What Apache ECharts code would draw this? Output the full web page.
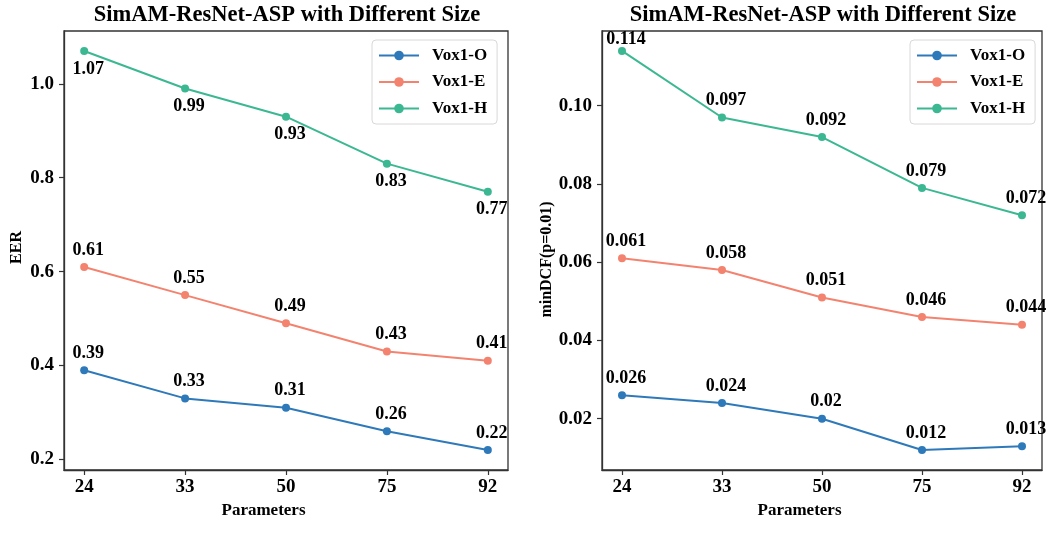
<!DOCTYPE html>
<html>
<head>
<meta charset="utf-8">
<script src="https://cdn.jsdelivr.net/npm/echarts@6/dist/echarts.min.js"></script>
<style>
html,body{margin:0;padding:0;background:#fff;}
#c{width:1053px;height:534px;}
</style>
</head>
<body>
<div id="c"></div>
<script>
const categories = ['24', '33', '50', '75', '92'];
const seriesNames = ['Vox1-O', 'Vox1-E', 'Vox1-H'];
const eerO = [0.39, 0.33, 0.31, 0.26, 0.22];
const eerE = [0.61, 0.55, 0.49, 0.43, 0.41];
const eerH = [1.07, 0.99, 0.93, 0.83, 0.77];
const dcfO = [0.026, 0.024, 0.020, 0.012, 0.013];
const dcfE = [0.061, 0.058, 0.051, 0.046, 0.044];
const dcfH = [0.114, 0.097, 0.092, 0.079, 0.072];
const eerTicks = [0.2, 0.4, 0.6, 0.8, 1.0];
const dcfTicks = [0.02, 0.04, 0.06, 0.08, 0.10];
const titleText = 'SimAM-ResNet-ASP with Different Size';

const colors = ['#2e79b9', '#f3836f', '#3bb892'];
const FONT = 'Liberation Serif';
const AX = '#333';

const chart = echarts.init(document.getElementById('c'), null, {renderer: 'canvas'});

function xAxis(gi) {
  return {
    type: 'value', gridIndex: gi, min: -0.2, max: 4.2,
    name: 'Parameters', nameLocation: 'middle', nameGap: 29,
    nameTextStyle: {fontFamily: FONT, fontWeight: 'bold', fontSize: 17, color: '#000', padding: [0, 45, 0, 0]},
    axisLine: {show: true, onZero: false, lineStyle: {color: AX, width: 1.3}},
    axisTick: {show: true, length: 5, lineStyle: {color: AX, width: 1.2}, customValues: [0, 1, 2, 3, 4]},
    axisLabel: {fontFamily: FONT, fontWeight: 'bold', fontSize: 19, color: '#000', margin: 8,
      customValues: [0, 1, 2, 3, 4], formatter: v => categories[Math.round(v)]},
    splitLine: {show: false}
  };
}
function yAxis(gi, min, max, ticks, dec, name, gap, nameSize, namePad) {
  return {
    type: 'value', gridIndex: gi, min: min, max: max,
    name: name, nameLocation: 'middle', nameGap: gap, nameRotate: 90,
    nameTextStyle: {fontFamily: FONT, fontWeight: 'bold', fontSize: nameSize, color: '#000', padding: namePad},
    axisLine: {show: true, onZero: false, lineStyle: {color: AX, width: 1.3}},
    axisTick: {show: true, length: 5, lineStyle: {color: AX, width: 1.2}, customValues: ticks},
    axisLabel: {fontFamily: FONT, fontWeight: 'bold', fontSize: 19, color: '#000', margin: 10,
      customValues: ticks, formatter: v => v.toFixed(dec)},
    splitLine: {show: false}
  };
}
function line(name, vals, gi, ci, pos, dist, special) {
  return {
    type: 'line', name: name, xAxisIndex: gi, yAxisIndex: gi,
    data: vals.map((v, i) => {
      const item = {value: [i, v]};
      if (special && special[i]) item.label = special[i];
      return item;
    }),
    color: colors[ci],
    symbol: 'circle', symbolSize: 8,
    lineStyle: {width: 2, color: colors[ci]},
    itemStyle: {color: colors[ci]},
    label: {show: true, position: pos, distance: dist, offset: [4, 0],
      fontFamily: FONT, fontWeight: 'bold', fontSize: 18, color: '#000',
      formatter: p => String(vals[p.dataIndex])},
    emphasis: {disabled: true},
    animation: false,
    z: 3
  };
}
function legend(left) {
  return {
    orient: 'vertical', left: left, top: 40,
    data: seriesNames,
    itemWidth: 40, itemHeight: 12, itemGap: 9.5,
    padding: [7, 10, 7, 6],
    backgroundColor: '#fff', borderColor: '#d8d8d8', borderWidth: 1, borderRadius: 4,
    textStyle: {fontFamily: FONT, fontWeight: 'bold', fontSize: 17, color: '#000', padding: [0, 0, 0, 8]},
    selectedMode: false
  };
}

const titleStyle = {fontFamily: FONT, fontWeight: 'bold', fontSize: 22.5, color: '#000'};
const option = {
  backgroundColor: '#fff',
  animation: false,
  title: [
    {text: titleText, left: 282, top: -1, textAlign: 'center', textStyle: titleStyle},
    {text: titleText, left: 818, top: -1, textAlign: 'center', textStyle: titleStyle}
  ],
  legend: [legend(372), legend(910)],
  grid: [
    {left: 64, right: 545, top: 31, bottom: 64, show: true, borderColor: AX, borderWidth: 1.3, backgroundColor: 'transparent'},
    {left: 602, right: 11, top: 31, bottom: 64, show: true, borderColor: AX, borderWidth: 1.3, backgroundColor: 'transparent'}
  ],
  xAxis: [xAxis(0), xAxis(1)],
  yAxis: [
    yAxis(0, 0.1775, 1.1125, eerTicks, 1, 'EER', 39, 16, [0, 0, 0, 6]),
    yAxis(1, 0.0069, 0.1191, dcfTicks, 2, 'minDCF(p=0.01)', 47, 16, [0, 18, 0, 0])
  ],
  series: [
    line(seriesNames[0], eerO, 0, 0, 'top', 4),
    line(seriesNames[1], eerE, 0, 1, 'top', 4),
    line(seriesNames[2], eerH, 0, 2, 'bottom', 5),
    line(seriesNames[0], dcfO, 1, 0, 'top', 4),
    line(seriesNames[1], dcfE, 1, 1, 'top', 4),
    line(seriesNames[2], dcfH, 1, 2, 'top', 4, {0: {distance: -1}})
  ]
};
chart.setOption(option);
</script>
</body>
</html>
